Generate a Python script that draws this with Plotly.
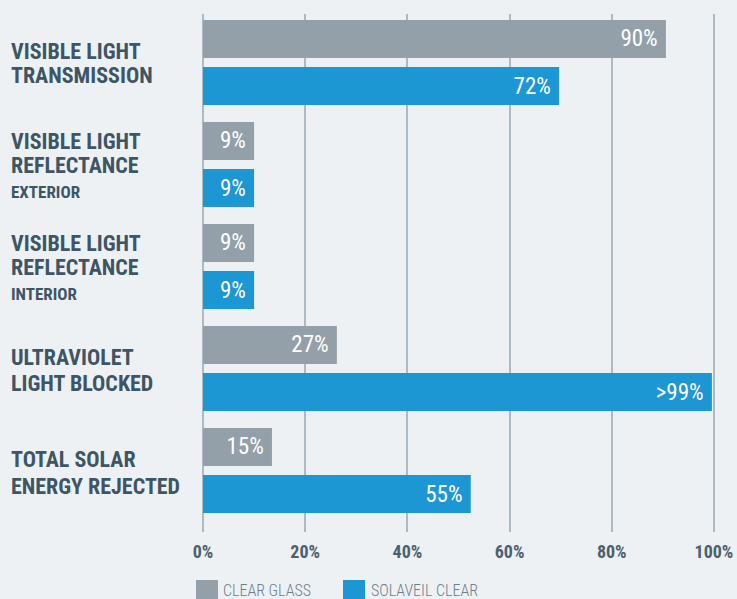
import plotly.graph_objects as go

# ---------------- data ----------------
categories = [
    "VISIBLE LIGHT TRANSMISSION",
    "VISIBLE LIGHT REFLECTANCE EXTERIOR",
    "VISIBLE LIGHT REFLECTANCE INTERIOR",
    "ULTRAVIOLET LIGHT BLOCKED",
    "TOTAL SOLAR ENERGY REJECTED",
]
label_main = [
    ["VISIBLE LIGHT", "TRANSMISSION"],
    ["VISIBLE LIGHT", "REFLECTANCE"],
    ["VISIBLE LIGHT", "REFLECTANCE"],
    ["ULTRAVIOLET", "LIGHT BLOCKED"],
    ["TOTAL SOLAR", "ENERGY REJECTED"],
]
label_sub = ["", "EXTERIOR", "INTERIOR", "", ""]

series_names = ["CLEAR GLASS", "SOLAVEIL CLEAR"]
clear_glass = [90.6, 10.0, 10.0, 26.2, 13.5]        # bar lengths
solaveil_clear = [69.7, 10.0, 10.0, 99.6, 52.4]
clear_glass_text = ["90%", "9%", "9%", "27%", "15%"]
solaveil_clear_text = ["72%", "9%", "9%", ">99%", "55%"]

tick_values = [0, 20, 40, 60, 80, 100]
tick_labels = ["0%", "20%", "40%", "60%", "80%", "100%"]

# ---------------- style ----------------
BG = "#edf1f4"
GRAY = "#94a0a9"
BLUE = "#1d96d4"
GRID = "#adbac3"
TEXT = "#3e5565"
TICK = "#4b6070"
LEG = "#6e7e8a"
FONT = "Roboto Condensed, Open Sans Condensed, Roboto, sans-serif"

W, H = 737, 599
XMAX = 100.4
ML, MT, MB = 203, 14, 67
PW = round(511 * XMAX / 100)
MR = W - ML - PW
PH = H - MT - MB

fig = go.Figure()
for name, vals, txt, col in [
    (series_names[0], clear_glass, clear_glass_text, GRAY),
    (series_names[1], solaveil_clear, solaveil_clear_text, BLUE),
]:
    fig.add_trace(go.Bar(
        y=categories, x=vals, name=name, orientation="h",
        marker=dict(color=col, line=dict(width=0)),
        text=txt, texttemplate="%{text}\u00a0", textposition="inside",
        insidetextanchor="end", constraintext="none",
        textfont=dict(family=FONT, size=23, color="white"),
        hoverinfo="skip", showlegend=False,
    ))

# category labels on the left
line_offsets_2 = {0: [-11.5, 12.5], 3: [-11.5, 15.0], 4: [-11.0, 16.0]}
line_offsets_3 = [-23.5, 0.5, 27.5]
annotations = []
x_label = (9 - ML) / PW
for i, lines in enumerate(label_main):
    if label_sub[i]:
        offs = line_offsets_3
        items = [(lines[0], 22), (lines[1], 22), (label_sub[i], 17)]
    else:
        offs = line_offsets_2[i]
        items = [(lines[0], 22), (lines[1], 22)]
    for (t, sz), off in zip(items, offs):
        annotations.append(dict(
            x=x_label, xref="paper", y=i, yref="y", yshift=-off,
            text=t, showarrow=False, xanchor="left", yanchor="middle",
            font=dict(family=FONT, size=sz, color=TEXT, weight="bold"),
        ))

# legend (drawn manually as squares + text)
def px_x(p):
    return (p - ML) / PW

def px_y(p):
    return (MT + PH - p) / PH

shapes = []
leg_items = [(series_names[0], GRAY, 196, 221), (series_names[1], BLUE, 343, 369)]
for name, col, sx, tx in leg_items:
    shapes.append(dict(type="rect", xref="paper", yref="paper",
                       x0=px_x(sx), x1=px_x(sx + 22), y0=px_y(580), y1=px_y(603),
                       fillcolor=col, line=dict(width=0), layer="above"))
    annotations.append(dict(
        x=px_x(tx), xref="paper", y=px_y(590), yref="paper", text=name,
        showarrow=False, xanchor="left", yanchor="middle",
        font=dict(family=FONT, size=16, color=LEG, weight=300),
    ))

fig.update_layout(
    width=W, height=H, autosize=False,
    margin=dict(l=ML, r=MR, t=MT, b=MB, pad=0, autoexpand=False),
    paper_bgcolor=BG, plot_bgcolor=BG,
    barmode="group", bargap=0.078, bargroupgap=0.1915,
    annotations=annotations, shapes=shapes,
    showlegend=False,
)
fig.update_xaxes(
    range=[0, XMAX], tickvals=tick_values, ticktext=tick_labels,
    showgrid=True, gridcolor=GRID, gridwidth=1.5,
    zeroline=True, zerolinecolor=GRID, zerolinewidth=1.5,
    showline=False, ticks="", ticklabelstandoff=7,
    ticklabeloverflow="allow", automargin=False,
    tickfont=dict(family=FONT, size=18, color=TICK, weight="bold"),
    fixedrange=True,
)
fig.update_yaxes(
    range=[4.603, -0.4755], showticklabels=False, showgrid=False,
    zeroline=False, showline=False, ticks="", fixedrange=True, automargin=False,
)

fig.write_html(
    "out.html",
    config={"displayModeBar": False},
    post_script="document.body.style.margin='0';document.body.style.background='%s';" % BG,
)
